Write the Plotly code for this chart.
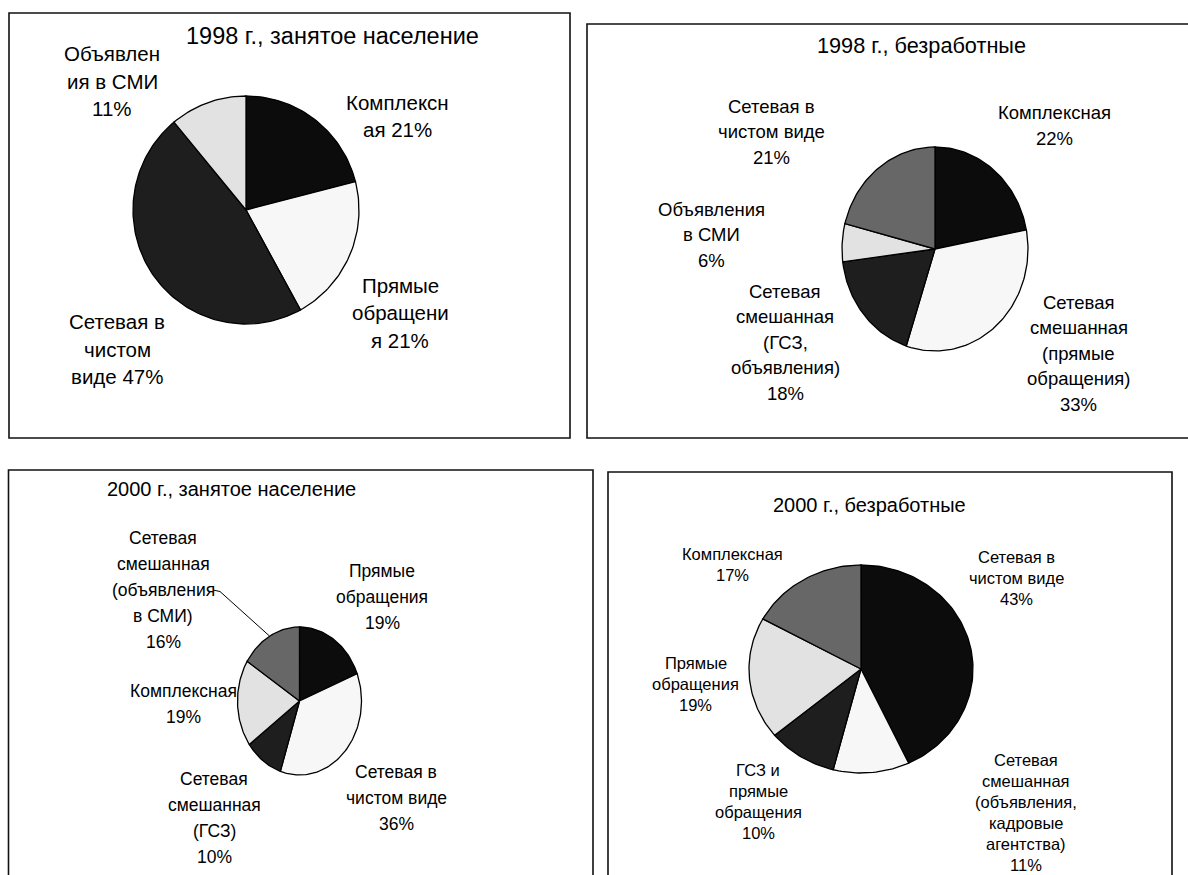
import numpy as np
import plotly.graph_objects as go

# ---------------- data ----------------
cats_98_emp = ["Комплексная", "Прямые обращения", "Сетевая в чистом виде", "Объявления в СМИ"]
vals_98_emp = [21, 21, 47, 11]
lbl_98_emp = ["Комплексн<br>ая {}%", "Прямые<br>обращени<br>я {}%", "Сетевая в<br>чистом<br>виде {}%",
              "Объявлен<br>ия в СМИ<br>{}%"]

cats_98_unemp = ["Комплексная", "Сетевая смешанная (прямые обращения)", "Сетевая смешанная (ГСЗ, объявления)",
                 "Объявления в СМИ", "Сетевая в чистом виде"]
vals_98_unemp = [22, 33, 18, 6, 21]
lbl_98_unemp = ["Комплексная<br>{}%", "Сетевая<br>смешанная<br>(прямые<br>обращения)<br>{}%",
                "Сетевая<br>смешанная<br>(ГСЗ,<br>объявления)<br>{}%", "Объявления<br>в СМИ<br>{}%",
                "Сетевая в<br>чистом виде<br>{}%"]

cats_00_emp = ["Прямые обращения", "Сетевая в чистом виде", "Сетевая смешанная (ГСЗ)", "Комплексная",
               "Сетевая смешанная (объявления в СМИ)"]
vals_00_emp = [19, 36, 10, 19, 16]
lbl_00_emp = ["Прямые<br>обращения<br>{}%", "Сетевая в<br>чистом виде<br>{}%", "Сетевая<br>смешанная<br>(ГСЗ)<br>{}%",
              "Комплексная<br>{}%", "Сетевая<br>смешанная<br>(объявления<br>в СМИ)<br>{}%"]

cats_00_unemp = ["Сетевая в чистом виде", "Сетевая смешанная (объявления, кадровые агентства)",
                 "ГСЗ и прямые обращения", "Прямые обращения", "Комплексная"]
vals_00_unemp = [43, 11, 10, 19, 17]
lbl_00_unemp = ["Сетевая в<br>чистом виде<br>{}%", "Сетевая<br>смешанная<br>(объявления,<br>кадровые<br>агентства)<br>{}%",
                "ГСЗ и<br>прямые<br>обращения<br>{}%", "Прямые<br>обращения<br>{}%", "Комплексная<br>{}%"]

titles = ["1998 г., занятое население", "1998 г., безработные",
          "2000 г., занятое население", "2000 г., безработные"]

# ---------------- style / layout ----------------
W, H = 1188, 875
FONT = "Arial, 'Liberation Sans', sans-serif"
BLACK, DARK, WHITE, LIGHT, GRAY = "#0c0c0c", "#1e1e1e", "#f7f7f7", "#e2e2e2", "#676767"

charts = [
    dict(vals=vals_98_emp, cats=cats_98_emp, lbl=lbl_98_emp, colors=[BLACK, WHITE, DARK, LIGHT],
         box=(9, 13, 570, 438), center=(246, 210), r=(113, 114),
         title_pos=(332, 36), title_size=23.5, lsize=20.5, spacing=27.5,
         lpos=[(397, 116), (400, 312.5), (117, 349), (112, 81)]),
    dict(vals=vals_98_unemp, cats=cats_98_unemp, lbl=lbl_98_unemp, colors=[BLACK, WHITE, DARK, LIGHT, GRAY],
         box=(587, 24, 1200, 438), center=(935, 249), r=(93, 102),
         title_pos=(921, 45), title_size=21.7, lsize=18.5, spacing=25.5,
         lpos=[(1054, 125.5), (1078.5, 353), (785, 342), (711, 234.5), (771, 131.5)]),
    dict(vals=vals_00_emp, cats=cats_00_emp, lbl=lbl_00_emp, colors=[BLACK, WHITE, DARK, LIGHT, GRAY],
         box=(8.5, 470, 593, 900), center=(299.5, 701), r=(62, 74),
         title_pos=(231, 489), title_size=20, lsize=17.5, spacing=26,
         lpos=[(382, 597), (396, 798), (214, 818), (183, 703.5), (163, 589.5)]),
    dict(vals=vals_00_unemp, cats=cats_00_unemp, lbl=lbl_00_unemp, colors=[BLACK, WHITE, DARK, LIGHT, GRAY],
         box=(608, 472, 1172, 900), center=(861, 669), r=(112, 104),
         title_pos=(869, 505), title_size=20, lsize=16.5, spacing=21,
         lpos=[(1016, 577.5), (1026, 812.5), (758, 801.5), (695.5, 683.5), (732, 564.5)]),
]

fig = go.Figure()
shapes, annotations = [], []


def slice_xy(cx, cy, rx, ry, a0, a1):
    n = max(3, int(abs(a1 - a0) / 1.5) + 2)
    t = np.radians(np.linspace(a0, a1, n))
    xs = cx + rx * np.sin(t)
    ys = cy - ry * np.cos(t)
    return [cx] + list(xs) + [cx], [cy] + list(ys) + [cy]


for k, ch in enumerate(charts):
    x0, y0, x1, y1 = ch["box"]
    shapes.append(dict(type="rect", xref="x", yref="y", x0=x0, y0=y0, x1=x1, y1=y1,
                       line=dict(color="#111111", width=1.6), fillcolor="rgba(0,0,0,0)", layer="below"))
    cx, cy = ch["center"]
    rx, ry = ch["r"]
    total = float(sum(ch["vals"]))
    start = 0.0
    mids = []
    for v, c, col in zip(ch["vals"], ch["cats"], ch["colors"]):
        span = 360.0 * v / total
        xs, ys = slice_xy(cx, cy, rx, ry, start, start + span)
        fig.add_trace(go.Scatter(x=xs, y=ys, mode="lines", fill="toself", fillcolor=col,
                                 line=dict(color="#000000", width=1.3), name=c,
                                 hoverinfo="text", text=f"{c}: {v}%", showlegend=False))
        mids.append(start + span / 2)
        start += span
    ch["mids"] = mids
    # title
    annotations.append(dict(x=ch["title_pos"][0], y=ch["title_pos"][1], xref="x", yref="y",
                            text=titles[k], showarrow=False,
                            xanchor="center", yanchor="middle",
                            font=dict(family=FONT, size=ch["title_size"], color="#000")))
    # labels, one annotation per line
    for tmpl, v, (lx, ly) in zip(ch["lbl"], ch["vals"], ch["lpos"]):
        lines = tmpl.format(v).split("<br>")
        n = len(lines)
        for i, line in enumerate(lines):
            annotations.append(dict(x=lx, y=ly + (i - (n - 1) / 2) * ch["spacing"], xref="x", yref="y",
                                    text=line, showarrow=False, xanchor="center", yanchor="middle",
                                    font=dict(family=FONT, size=ch["lsize"], color="#000")))

# leader line for the "(объявления в СМИ)" slice of chart 3
ch3 = charts[2]
m = np.radians(ch3["mids"][4])
end_x = ch3["center"][0] + ch3["r"][0] * np.sin(m)
end_y = ch3["center"][1] - ch3["r"][1] * np.cos(m)
fig.add_trace(go.Scatter(x=[213, 220, end_x], y=[590, 591.5, end_y], mode="lines",
                         line=dict(color="#000", width=1), hoverinfo="skip", showlegend=False))

fig.update_layout(
    width=W, height=H, margin=dict(l=0, r=0, t=0, b=0),
    paper_bgcolor="white", plot_bgcolor="white",
    xaxis=dict(range=[0, W], visible=False, fixedrange=True),
    yaxis=dict(range=[H, 0], visible=False, fixedrange=True),
    shapes=shapes, annotations=annotations, showlegend=False,
)
fig.write_html("out.html")
